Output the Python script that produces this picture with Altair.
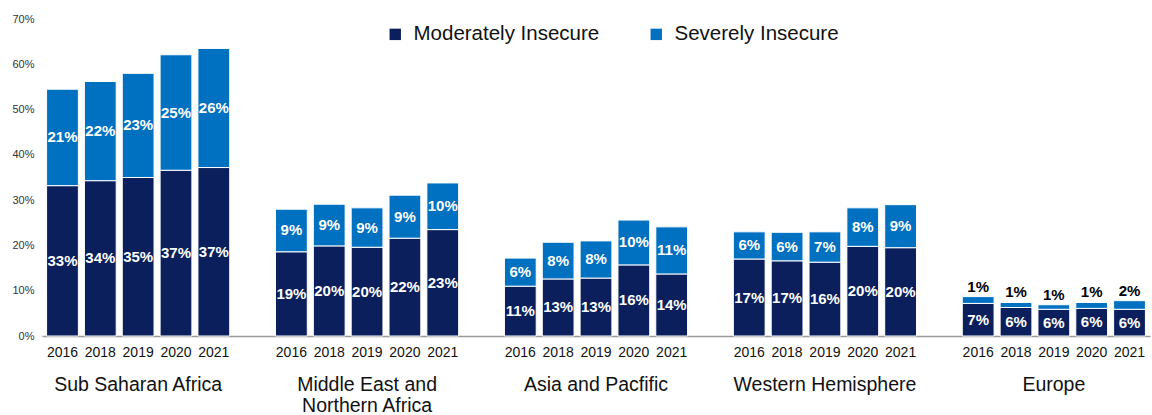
import altair as alt
import pandas as pd

regions = ["Sub Saharan Africa", "Middle East and|Northern Africa", "Asia and Pacfific",
           "Western Hemisphere", "Europe"]
years = ["2016", "2018", "2019", "2020", "2021"]

moderate = [
    [33.2, 34.3, 35.0, 36.6, 37.2],
    [18.6, 19.9, 19.6, 21.6, 23.5],
    [11.0, 12.6, 12.8, 15.7, 13.7],
    [17.0, 16.6, 16.3, 19.8, 19.5],
    [7.2, 6.3, 5.9, 6.1, 5.9],
]
severe = [
    [21.3, 21.9, 23.0, 25.5, 26.3],
    [9.4, 9.2, 8.7, 9.5, 10.3],
    [6.2, 8.1, 8.2, 9.9, 10.4],
    [6.0, 6.3, 6.7, 8.5, 9.5],
    [1.5, 1.1, 1.0, 1.3, 1.9],
]
moderate_labels = [
    ["33%", "34%", "35%", "37%", "37%"],
    ["19%", "20%", "20%", "22%", "23%"],
    ["11%", "13%", "13%", "16%", "14%"],
    ["17%", "17%", "16%", "20%", "20%"],
    ["7%", "6%", "6%", "6%", "6%"],
]
severe_labels = [
    ["21%", "22%", "23%", "25%", "26%"],
    ["9%", "9%", "9%", "9%", "10%"],
    ["6%", "8%", "8%", "10%", "11%"],
    ["6%", "6%", "7%", "8%", "9%"],
    ["1%", "1%", "1%", "1%", "2%"],
]

series = ["Moderately Insecure", "Severely Insecure"]
colors = ["#0b1f5c", "#0070c0"]

rows = []
labels_inside = []
labels_above = []
for i, r in enumerate(regions):
    for j, y in enumerate(years):
        m = moderate[i][j] / 100
        s = severe[i][j] / 100
        rows.append({"region": r, "year": y, "series": series[0], "value": m, "ord": 0})
        rows.append({"region": r, "year": y, "series": series[1], "value": s, "ord": 1})
        labels_inside.append({"region": r, "year": y, "pos": m / 2, "label": moderate_labels[i][j]})
        if r == "Europe":
            labels_above.append({"region": r, "year": y, "pos": m + s, "label": severe_labels[i][j]})
        else:
            labels_inside.append({"region": r, "year": y, "pos": m + s / 2, "label": severe_labels[i][j]})

df = pd.DataFrame(rows)
lab_in = pd.DataFrame(labels_inside)
lab_up = pd.DataFrame(labels_above)
yr = pd.DataFrame([{"region": r, "year": y} for r in regions for y in years])

FONT = "Liberation Sans"

x_axis = alt.Axis(title=None, labelAngle=0, labelFontSize=19.5, labelColor="#111111",
                  labelFont=FONT, labelPadding=39, ticks=False, domainColor="#9a9a9a",
                  domainWidth=1.5, labelExpr="split(datum.label, '|')",
                  labelLineHeight=21, labelBaseline="top", labelLimit=400, grid=False)
x_scale = alt.Scale(paddingInner=0.2, paddingOuter=0.02)
y_axis = alt.Axis(title=None, format=".0%", values=[0, .1, .2, .3, .4, .5, .6, .7],
                  grid=False, domain=False, ticks=False, labelFontSize=11,
                  labelColor="#333333", labelFont=FONT, labelPadding=8)
y_scale = alt.Scale(domain=[0, 0.7])


def xenc():
    return alt.X("region:N", sort=regions, scale=x_scale, axis=x_axis)


def xoenc():
    return alt.XOffset("year:N", sort=years, scale=alt.Scale(paddingInner=0.16, paddingOuter=0))


bars = alt.Chart(df).mark_bar(stroke="white", strokeWidth=1).encode(
    x=xenc(),
    xOffset=xoenc(),
    y=alt.Y("value:Q", stack="zero", scale=y_scale, axis=y_axis),
    color=alt.Color("series:N", sort=series,
                    scale=alt.Scale(domain=series, range=colors),
                    legend=alt.Legend(title=None, orient="none", legendX=343, legendY=5,
                                      direction="horizontal", symbolType="square",
                                      symbolSize=130, symbolStrokeWidth=0,
                                      labelFontSize=20.5, labelFont=FONT, labelColor="#111111",
                                      columnPadding=46, labelOffset=8, labelLimit=400)),
    order=alt.Order("ord:Q"),
)

txt_in = alt.Chart(lab_in).mark_text(color="white", fontWeight="bold", fontSize=15,
                                     font=FONT, baseline="middle").encode(
    x=xenc(), xOffset=xoenc(),
    y=alt.Y("pos:Q", scale=y_scale, axis=y_axis), text="label:N")

txt_up = alt.Chart(lab_up).mark_text(color="black", fontWeight="bold", fontSize=15,
                                     font=FONT, baseline="bottom", dy=-2).encode(
    x=xenc(), xOffset=xoenc(),
    y=alt.Y("pos:Q", scale=y_scale, axis=y_axis), text="label:N")

txt_year = alt.Chart(yr).mark_text(color="#111111", fontSize=14, font=FONT,
                                   baseline="top", dy=10).encode(
    x=xenc(), xOffset=xoenc(),
    y=alt.datum(0, scale=y_scale, axis=y_axis), text="year:N")

chart = alt.layer(bars, txt_in, txt_up, txt_year).properties(
    width=1108, height=317,
    padding={"left": 42, "top": 19, "right": 2, "bottom": 79},
    autosize=alt.AutoSizeParams(type="none"),
).configure(background="white").configure_view(strokeWidth=0, stroke=None)

chart.save("out.html", embed_options={"renderer": "svg", "actions": False})
